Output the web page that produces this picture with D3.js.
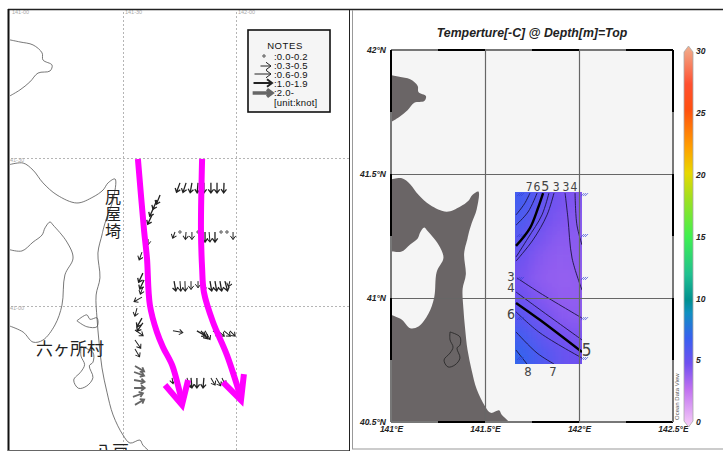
<!DOCTYPE html>
<html>
<head>
<meta charset="utf-8">
<script src="https://cdn.jsdelivr.net/npm/d3@7"></script>
<style>
  body { margin: 0; background: #fff; }
  svg { display: block; }
  .odv text { font-family: "Liberation Sans", Arial, sans-serif; font-weight: bold; font-style: italic; font-size: 8.5px; fill: #222; }
</style>
</head>
<body>
<div id="viz1"></div>
<script>
// coast (lon, lat)
const hokkaido = [[141,41.899],[141.044,41.892],[141.102,41.882],[141.142,41.855],[141.146,41.831],[141.186,41.814],[141.177,41.794],[141.124,41.787],[141.088,41.757],[141.044,41.730],[141,41.71]];
const honshu = [[141,41.478],[141.058,41.483],[141.102,41.459],[141.146,41.416],[141.208,41.375],[141.296,41.348],[141.367,41.368],[141.412,41.392],[141.434,41.416],[141.465,41.429],[141.456,41.358],[141.429,41.301],[141.412,41.257],[141.407,41.240],[141.389,41.179],[141.398,41.095],[141.381,41.037],[141.385,40.959],[141.394,40.878],[141.407,40.791],[141.429,40.709],[141.456,40.632],[141.500,40.564],[141.531,40.537],[141.575,40.547],[141.588,40.530],[141.628,40.500],[141.66,40.46]];
const mutsuBay = [[141,41.19],[141.053,41.186],[141.102,41.216],[141.142,41.240],[141.155,41.264],[141.177,41.284],[141.190,41.274],[141.252,41.216],[141.279,41.162],[141.243,41.105],[141.230,41.003],[141.199,40.936],[141.146,40.885],[141.102,40.878],[141.058,40.912],[141,40.932]];
const lakeOgawara = [[141.314,40.863],[141.367,40.843],[141.367,40.810],[141.351,40.798],[141.367,40.758],[141.340,40.730],[141.303,40.722],[141.282,40.750],[141.314,40.778],[141.330,40.802],[141.314,40.831],[141.314,40.863]];
const lakeTakahoko = [[141.296,40.95],[141.34,40.97],[141.354,40.955],[141.385,40.96],[141.385,40.93],[141.34,40.93],[141.296,40.95]];

// current vectors: tail position, speed in knots, heading in degrees
const vectorLon = [
  141.752,141.779,141.805,141.832,141.858,141.889,141.916,141.947,
  141.73,141.752,141.779,141.805,141.832,141.863,141.881,141.907,141.934,141.96,141.987,
  141.726,141.752,141.774,141.801,141.832,141.858,141.885,141.907,141.929,141.951,141.973,
  141.721,141.827,141.845,141.863,141.898,141.920,141.947,141.973,
  141.717,141.783,141.801,141.827,141.858,141.889,141.912,141.938,
  141.664,141.650,141.637,141.628,141.611,141.584,141.588,141.593,141.588,141.584,141.562,141.584,141.588,141.553,141.553,141.553,
  141.553,141.549,141.549,141.549,141.544,141.553];
const vectorLat = [
  41.416,41.416,41.416,41.416,41.416,41.416,41.416,41.416,
  41.25,41.25,41.25,41.25,41.25,41.25,41.25,41.25,41.25,41.25,41.25,
  41.084,41.084,41.084,41.084,41.084,41.084,41.084,41.084,41.084,41.084,41.084,
  40.916,40.916,40.916,40.916,40.916,40.916,40.916,40.916,
  40.757,40.757,40.757,40.757,40.757,40.757,40.757,40.757,
  41.375,41.358,41.334,41.307,41.226,41.182,41.111,41.088,41.064,41.030,40.993,40.959,40.943,40.919,40.885,40.855,
  40.797,40.777,40.75,40.723,40.693,40.666];
const vectorSpeed = [
  1,1,1,1,1,1,1,1,
  .5,.2,.6,.6,.2,1,.9,1,.2,.2,.6,
  1,.9,.9,.7,.5,.9,1,1,1,1,.4,
  .9,1,1,.9,.7,.7,.7,.6,
  .4,.9,1,1,1,.7,.8,.6,
  1,1,1,1,.4,.7,1,1,.6,.8,.7,1,1,.9,.9,.8,
  2.2,2.2,2.2,2.2,2.2,2.2];
const vectorDir = [
  200,198,190,185,180,180,180,182,
  200,180,185,180,180,180,175,180,180,180,180,
  170,175,178,180,180,180,170,170,170,165,195,
  100,120,140,150,125,130,130,135,
  170,160,175,180,185,150,150,155,
  202,203,205,205,180,200,205,205,200,240,195,210,215,125,145,150,
  120,110,100,90,70,60];

// hand drawn arrows over the left map
const flowWest = [[141.566,41.497],[141.593,41.257],[141.606,41.162],[141.619,41.003],[141.650,40.912],[141.677,40.861],[141.717,40.801],[141.743,40.733],[141.761,40.676]];
const flowWestHead = [[141.686,40.733],[141.761,40.666],[141.788,40.75]];
const flowEast = [[141.850,41.497],[141.845,41.257],[141.850,41.128],[141.858,41.047],[141.898,40.946],[141.960,40.834],[142.022,40.689]];
const flowEastHead = [[141.942,40.743],[142.022,40.682],[142.035,40.770]];

// legend
const legendRanges = [":0.0-0.2",":0.3-0.5",":0.6-0.9",":1.0-1.9",":2.0-"];
const legendSpeeds = [0.1,0.4,0.8,1.5,2.5];

// temperature field on the right map
const tempLon = [141.69,141.74,141.79,141.84,141.89,141.94,141.99];
const tempLat = [41.39,41.31,41.23,41.16,41.08,41.00,40.93,40.85,40.78];
const tempRows = [
  [6.6,6.2,5.7,5.2,4.9,4.7,4.5],
  [6.4,5.9,5.3,4.9,4.7,4.5,4.4],
  [5.9,5.3,4.9,4.6,4.4,4.3,4.4],
  [5.2,4.8,4.5,4.3,4.2,4.2,4.3],
  [4.9,4.6,4.3,4.2,4.1,4.1,4.2],
  [5.2,4.9,4.6,4.4,4.2,4.1,4.2],
  [5.9,5.5,5.1,4.8,4.5,4.3,4.3],
  [6.6,6.2,5.7,5.3,5.0,4.8,4.6],
  [7.2,6.8,6.3,5.9,5.5,5.2,5.0]];

// contours, thick ones are listed apart
const contoursThin = [
  [[141.739,41.423],[141.71,41.38],[141.665,41.335]],
  [[141.777,41.423],[141.729,41.347],[141.665,41.294]],
  [[141.840,41.423],[141.803,41.335],[141.729,41.242],[141.665,41.165]],
  [[141.867,41.423],[141.830,41.335],[141.755,41.234],[141.665,41.149]],
  [[141.926,41.423],[141.941,41.323],[141.963,41.161],[142.016,41.032]],
  [[141.979,41.423],[141.989,41.294],[142.016,41.214]],
  [[141.670,41.081],[141.793,41.020],[142.016,40.919]],
  [[141.665,41.024],[141.809,40.944],[142.016,40.831]],
  [[141.665,40.944],[141.793,40.859],[142.016,40.758]],
  [[141.665,40.863],[141.777,40.778],[141.867,40.734]],
  [[141.665,40.790],[141.723,40.734]]];
const contoursThick = [
  [[141.809,41.423],[141.782,41.363],[141.739,41.282],[141.665,41.210]],
  [[141.665,40.980],[141.793,40.911],[142.016,40.782]]];
const contourText = ["7","6","5","3","3","4","3","4","6","5","8","7"];
const contourTextLon = [141.735,141.776,141.82,141.878,141.931,141.973,141.638,141.638,141.638,142.04,141.729,141.862];
const contourTextLat = [41.43,41.43,41.43,41.43,41.43,41.43,41.07,41.025,40.915,40.766,40.685,40.685];
const contourTextSize = [12,12,14,12,12,12,13,13,14,17,13,13];

const stationLon = [141.686,141.686,141.686,141.686,141.686,142.027,142.027,142.027,142.027,142.027];
const stationLat = [41.419,41.254,41.081,40.919,40.758,41.419,41.254,41.081,40.919,40.758];

// colour bar
const barTicks = [0,5,10,15,20,25,30];
const barStops = [0,3,5,7,9,10,12,15,18,20,22,25,27,30];
const barColors = ["#f8d0f8","#c070f0","#7050f0","#3860f0","#1090c0","#009090","#20c090","#40f050","#a0e020","#e8d800","#ffa000","#ff5010","#ff5030","#f0b090"];

const lonTicks = [141,141.5,142,142.5];
const latTicks = [40.5,41,41.5,42];

const svg = d3.select("#viz1").append("svg").attr("width", 723).attr("height", 451);

const defs = svg.append("defs");
defs.append("clipPath").attr("id", "clipLeft").append("rect").attr("x", 9).attr("y", 10).attr("width", 340).attr("height", 440);
defs.append("clipPath").attr("id", "clipRight").append("rect").attr("x", 391).attr("y", 50).attr("width", 282).attr("height", 372);
defs.append("clipPath").attr("id", "clipTemp").append("rect").attr("x", 515).attr("y", 192).attr("width", 67).attr("height", 172);
defs.append("filter").attr("id", "soft").attr("x", "-20%").attr("y", "-20%").attr("width", "140%").attr("height", "140%")
    .append("feGaussianBlur").attr("stdDeviation", 7);

const color = d3.scaleLinear().domain(barStops).range(barColors);

drawLeft();
drawRight();

function drawLeft(){
    const x = d3.scaleLinear().domain([141, 142.5]).range([10, 349]);
    const y = d3.scaleLinear().domain([42, 40.5]).range([10, 454]);
    const line = d3.line().x(d => x(d[0])).y(d => y(d[1]));
    const smooth = d3.line().curve(d3.curveCatmullRom).x(d => x(d[0])).y(d => y(d[1]));
    const g = svg.append("g");

    // grid
    const fmtLon = d => Math.floor(d) + "-" + (d % 1 ? "30" : "00");
    const gridX = g.append("g").attr("transform", "translate(0,450)")
        .call(d3.axisBottom(x).tickValues([141.5, 142]).tickSize(-440).tickFormat(""));
    const gridY = g.append("g").attr("transform", "translate(349,0)")
        .call(d3.axisLeft(y).tickValues([41, 41.5]).tickSize(340).tickFormat(""));
    [gridX, gridY].forEach(a => {
        a.select(".domain").remove();
        a.selectAll("line").attr("stroke", "#b5b5b5").attr("stroke-dasharray", "2,2");
    });

    g.selectAll(".lonLabel").data([141, 141.5, 142]).join("text")
        .attr("x", d => x(d) + 2).attr("y", 14)
        .attr("font-family", "Liberation Sans").attr("font-size", 5.5).attr("fill", "#aaa")
        .text(fmtLon);
    g.selectAll(".latLabel").data([41.5, 41]).join("text")
        .attr("x", 10).attr("y", d => y(d) + 4)
        .attr("font-family", "Liberation Sans").attr("font-size", 5.5).attr("fill", "#aaa")
        .text(fmtLon);

    // coast
    const coast = g.append("g").attr("clip-path", "url(#clipLeft)")
        .attr("fill", "none").attr("stroke", "#555").attr("stroke-width", 0.8);
    [hokkaido, honshu, mutsuBay, lakeOgawara, lakeTakahoko].forEach(d => {
        coast.append("path").attr("d", smooth(d));
    });

    // place names
    const names = g.append("g").attr("clip-path", "url(#clipLeft)")
        .attr("font-family", "Noto Sans CJK JP").attr("fill", "#222");
    names.append("text").attr("x", x(141.456)).attr("y", y(41.395))
        .attr("writing-mode", "vertical-rl").attr("letter-spacing", 1)
        .attr("font-size", 16).text("尻屋埼");
    names.append("text").attr("x", x(141.115)).attr("y", y(40.835)).attr("font-size", 17).text("六ヶ所村");
    names.append("text").attr("x", x(141.376)).attr("y", y(40.488)).attr("font-size", 17).text("八戸");

    // vectors
    const vectors = g.append("g");
    vectorLon.forEach((lon, i) => {
        drawVector(vectors, x(lon), y(vectorLat[i]), vectorSpeed[i], vectorDir[i], 1);
    });

    // magenta flow arrows
    const flow = g.append("g").attr("fill", "none").attr("stroke", "#ff00ff")
        .attr("stroke-width", 6).attr("stroke-linejoin", "miter");
    flow.append("path").attr("d", smooth(flowWest));
    flow.append("path").attr("d", line(flowWestHead));
    flow.append("path").attr("d", smooth(flowEast));
    flow.append("path").attr("d", line(flowEastHead));

    // legend
    const lg = g.append("g");
    lg.append("rect").attr("x", 248).attr("y", 30).attr("width", 82).attr("height", 82)
        .attr("fill", "#f5f5f5").attr("stroke", "#111").attr("stroke-width", 1.6);
    lg.append("text").attr("x", 285).attr("y", 49).attr("text-anchor", "middle")
        .attr("font-family", "Liberation Sans").attr("font-size", 9.5).attr("letter-spacing", 0.6).attr("fill", "#111").text("NOTES");
    const rowY = d3.scalePoint().domain(legendRanges).range([56, 92]);
    legendRanges.forEach((t, i) => {
        lg.append("text").attr("x", 274).attr("y", rowY(t) + 3.5)
            .attr("font-family", "Liberation Sans").attr("font-size", 9.5).attr("letter-spacing", 0.2).attr("fill", "#111").text(t);
        drawVector(lg, 272 - [8, 1, 1, 0, 0][i], rowY(t) + [0, 1, 0, 0, 1][i], legendSpeeds[i], 90, 1.8, true);
    });
    lg.append("text").attr("x", 274).attr("y", 105.5)
        .attr("font-family", "Liberation Sans").attr("font-size", 9.5).attr("letter-spacing", 0.2).attr("fill", "#111").text("[unit:knot]");

    // frame
    g.append("line").attr("x1", 8).attr("x2", 350).attr("y1", 9.5).attr("y2", 9.5).attr("stroke", "#222").attr("stroke-width", 1.5);
    g.append("line").attr("x1", 8.5).attr("x2", 8.5).attr("y1", 9).attr("y2", 451).attr("stroke", "#111").attr("stroke-width", 2);
    g.append("line").attr("x1", 8).attr("x2", 350).attr("y1", 450.5).attr("y2", 450.5).attr("stroke", "#666");
    g.append("line").attr("x1", 349.5).attr("x2", 349.5).attr("y1", 9).attr("y2", 451).attr("stroke", "#222");
}

// one arrow, tail at px,py. Tail anchored, or head anchored for the legend
function drawVector(parent, px, py, speed, dir, scale, headAnchored){
    const big = scale > 1;
    const len = d3.scaleLinear().domain([0, 0.3, 0.9, 2, 3]).range([1.5, 5, 10, 10.5, 11]).clamp(true)(speed) * scale;
    if (speed <= 0.2){
        parent.append("circle").attr("cx", px).attr("cy", py).attr("r", 1.2)
            .attr("fill", "none").attr("stroke", "#222").attr("stroke-width", 0.8);
        return;
    }
    const stroke = speed >= 2 ? "#666" : "#222";
    const width = speed >= 2 ? (big ? 3.4 : 1.8) : speed >= 1 ? (big ? 2 : 1.3) : 1;
    const head = big ? 5 : 3.6;
    const p = d3.path();
    const y0 = headAnchored ? len : 0;
    p.moveTo(0, y0);
    p.lineTo(0, y0 - len);
    p.moveTo(-head * 0.75, y0 - len + head);
    p.lineTo(0, y0 - len);
    p.lineTo(head * 0.75, y0 - len + head);
    parent.append("path")
        .attr("transform", "translate(" + px + "," + py + ") rotate(" + dir + ")")
        .attr("d", p.toString())
        .attr("fill", "none").attr("stroke", stroke).attr("stroke-width", width);
}

function drawRight(){
    const x = d3.scaleLinear().domain([141, 142.5]).range([391, 673]);
    const y = d3.scaleLinear().domain([42, 40.5]).range([50, 422]);
    const line = d3.line().curve(d3.curveCatmullRom).x(d => x(d[0])).y(d => y(d[1]));
    const g = svg.append("g").attr("class", "odv");

    // outer frame
    g.append("line").attr("x1", 350).attr("x2", 723).attr("y1", 9.5).attr("y2", 9.5).attr("stroke", "#222").attr("stroke-width", 1.5);
    g.append("line").attr("x1", 352.5).attr("x2", 352.5).attr("y1", 10).attr("y2", 449).attr("stroke", "#999");
    g.append("line").attr("x1", 352).attr("x2", 723).attr("y1", 449).attr("y2", 449).attr("stroke", "#999");

    g.append("text").attr("x", 532).attr("y", 37).attr("text-anchor", "middle")
        .style("font-size", "12.3px").text("Temperture[-C] @ Depth[m]=Top");

    // sea and land
    g.append("rect").attr("x", 391).attr("y", 50).attr("width", 282).attr("height", 372).attr("fill", "#f5f5f5");
    const map = g.append("g").attr("clip-path", "url(#clipRight)");
    map.append("path").attr("d", line(hokkaido) + "L" + x(140.9) + "," + y(41.71) + "L" + x(140.9) + "," + y(41.899) + "Z").attr("fill", "#6a6566");
    map.append("path").attr("d", line(honshu) + "L" + x(140.9) + "," + y(40.46) + "L" + x(140.9) + "," + y(41.478) + "Z").attr("fill", "#6a6566");
    map.append("path").attr("d", line(mutsuBay) + "Z").attr("fill", "#f5f5f5");
    map.append("path").attr("d", line(lakeOgawara)).attr("fill", "none").attr("stroke", "#222").attr("stroke-width", 0.8);

    // temperature field
    const cellX = d3.scaleBand().domain(tempLon).range([515, 582]);
    const cellY = d3.scaleBand().domain(tempLat).range([192, 364]);
    const field = g.append("g").attr("clip-path", "url(#clipTemp)").append("g").attr("filter", "url(#soft)");
    tempRows.forEach((row, j) => {
        field.selectAll(".r" + j).data(row).join("rect")
            .attr("x", (d, i) => cellX(tempLon[i]) - (i == 0 ? 20 : 0))
            .attr("y", cellY(tempLat[j]) - (j == 0 ? 20 : 0))
            .attr("width", (d, i) => cellX.bandwidth() + (i == 0 || i == row.length - 1 ? 20 : 0) + 0.5)
            .attr("height", cellY.bandwidth() + (j == 0 || j == tempRows.length - 1 ? 20 : 0) + 0.5)
            .attr("fill", d => color(d));
    });

    const lines = g.append("g").attr("clip-path", "url(#clipTemp)").attr("fill", "none");
    lines.selectAll(".thin").data(contoursThin).join("path").attr("d", line)
        .attr("stroke", "#1a1440").attr("stroke-width", 0.9);
    lines.selectAll(".thick").data(contoursThick).join("path").attr("d", line)
        .attr("stroke", "#000").attr("stroke-width", 2.4);

    // grid, drawn from the axes
    const gridX = g.append("g").attr("transform", "translate(0,422)")
        .call(d3.axisBottom(x).tickValues(lonTicks).tickSize(-372).tickPadding(4).tickFormat(d => d + "°E"));
    const gridY = g.append("g").attr("transform", "translate(391,0)")
        .call(d3.axisLeft(y).tickValues(latTicks).tickSize(0).tickPadding(5).tickFormat(d => d + "°N"));
    gridX.select(".domain").remove();
    gridY.select(".domain").remove();
    gridX.selectAll("line").attr("stroke", "#666").attr("stroke-width", 1.2);
    gridX.selectAll(".tick").filter(d => d == 141 || d == 142.5).select("line").remove();
    gridY.selectAll(".tick").filter(d => d == 41 || d == 41.5).append("line")
        .attr("x1", 0).attr("x2", 282).attr("y1", 0).attr("y2", 0).attr("stroke", "#666").attr("stroke-width", 1.2);

    // stations
    const st = g.append("g").attr("stroke", "#3540d8").attr("stroke-width", 0.7).attr("fill", "none");
    stationLon.forEach((lon, i) => {
        st.append("path")
            .attr("transform", "translate(" + x(lon) + "," + y(stationLat[i]) + ")")
            .attr("d", "M-3,2L0,-1M-1,2L2,-1M1,2L4,-1");
    });

    // contour values
    g.selectAll(".clabel").data(contourText).join("text")
        .attr("x", (d, i) => x(contourTextLon[i]))
        .attr("y", (d, i) => y(contourTextLat[i]))
        .attr("text-anchor", "middle")
        .style("font-family", "'Liberation Sans Narrow', 'DejaVu Sans Condensed', 'Liberation Sans'")
        .style("font-weight", "normal").style("font-style", "normal")
        .style("fill", "#444")
        .style("font-size", (d, i) => contourTextSize[i] + "px")
        .text(d => d);

    // chequered map frame
    const bands = d3.range(0, 6);
    const stepX = d3.scaleBand().domain(bands).range([391, 673]);
    const stepY = d3.scaleBand().domain(bands).range([50, 422]);
    [50, 422].forEach(py => {
        g.selectAll(".fx" + py).data(bands).join("line")
            .attr("x1", d => stepX(d)).attr("x2", d => stepX(d) + stepX.bandwidth())
            .attr("y1", py).attr("y2", py)
            .attr("stroke", d => d % 2 ? "#000" : "#777").attr("stroke-width", 2);
    });
    [391, 673].forEach(px => {
        g.selectAll(".fy" + px).data(bands).join("line")
            .attr("y1", d => stepY(d)).attr("y2", d => stepY(d) + stepY.bandwidth())
            .attr("x1", px).attr("x2", px)
            .attr("stroke", d => d % 2 ? "#777" : "#000").attr("stroke-width", 2);
    });

    g.append("text").attr("transform", "translate(679,420) rotate(-90)")
        .style("font-size", "6px").style("font-style", "normal").style("font-weight", "normal").style("fill", "#555")
        .text("Ocean Data View");

    // colour bar
    const barY = d3.scaleLinear().domain([0, 30]).range([422, 51]);
    const grad = defs.append("linearGradient").attr("id", "barGrad").attr("x1", 0).attr("x2", 0).attr("y1", 1).attr("y2", 0);
    grad.selectAll("stop").data(barStops).join("stop")
        .attr("offset", d => d / 30)
        .attr("stop-color", d => color(d));
    const tip = d3.path();
    tip.moveTo(684, barY(30) + 1);
    tip.lineTo(688.5, barY(30) - 5);
    tip.lineTo(693, barY(30) + 1);
    tip.lineTo(693, barY(0) - 1);
    tip.lineTo(688.5, barY(0) + 5);
    tip.lineTo(684, barY(0) - 1);
    tip.closePath();
    g.append("path").attr("d", tip.toString()).attr("fill", "url(#barGrad)").attr("stroke", "#aaa").attr("stroke-width", 0.8);
    const barAxis = g.append("g").attr("transform", "translate(693,0)")
        .call(d3.axisRight(barY).tickValues(barTicks).tickSize(0).tickPadding(3));
    barAxis.select(".domain").remove();
}
</script>
</body>
</html>
